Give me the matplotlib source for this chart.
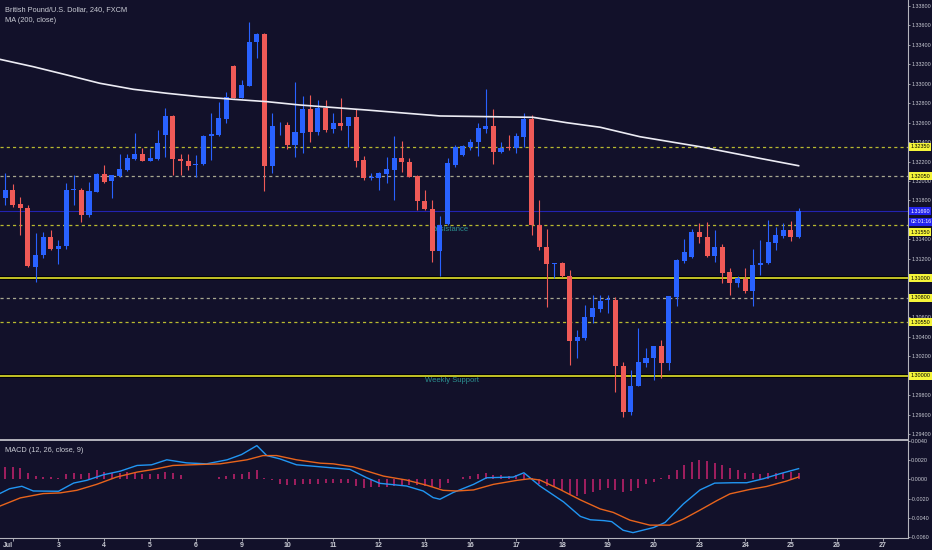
import numpy as np
import matplotlib
matplotlib.use('Agg')
import matplotlib.pyplot as plt

plt.rcParams['font.family'] = ['Liberation Sans', 'DejaVu Sans']

# GBPUSD 240 min candles, bar 0 = first bar of Jul 2
bars = np.arange(-1, 104)
opens = [1.31829, 1.31908, 1.31764, 1.31723, 1.31120, 1.31240, 1.31425, 1.31302, 1.31333, 1.31903,
         1.31908, 1.31651, 1.31890, 1.32072, 1.32003, 1.32051, 1.32113, 1.32226, 1.32274, 1.32209,
         1.32223, 1.32476, 1.32668, 1.32226, 1.32206, 1.32161, 1.32172, 1.32465, 1.32473, 1.32634,
         1.33184, 1.32856, 1.32976, 1.33425, 1.33507, 1.32157, 1.32560, 1.32575, 1.32370, 1.32496,
         1.32736, 1.32506, 1.32747, 1.32531, 1.32593, 1.32568, 1.32661, 1.32216, 1.32031, 1.32034,
         1.32072, 1.32113, 1.32233, 1.32198, 1.32051, 1.31798, 1.31713, 1.31284, 1.31555, 1.32164,
         1.32267, 1.32352, 1.32398, 1.32531, 1.32568, 1.32301, 1.32352, 1.32342, 1.32455, 1.32634,
         1.31548, 1.31325, 1.31145, 1.31155, 1.31024, 1.30357, 1.30391, 1.30600, 1.30682, 1.30773,
         1.30778, 1.30103, 1.29628, 1.29898, 1.30134, 1.30179, 1.30306, 1.30128, 1.30812, 1.31182,
         1.31217, 1.31479, 1.31428, 1.31230, 1.31319, 1.31062, 1.30950, 1.30994, 1.30870, 1.31138,
         1.31155, 1.31366, 1.31438, 1.31497, 1.31422]
highs = [1.32082, 1.31969, 1.31836, 1.31754, 1.31466, 1.31476, 1.31497, 1.31394, 1.31980, 1.32062,
         1.31928, 1.31990, 1.32082, 1.32164, 1.32062, 1.32277, 1.32277, 1.32493, 1.32339, 1.32339,
         1.32524, 1.32753, 1.32678, 1.32277, 1.32277, 1.32267, 1.32473, 1.32698, 1.32815, 1.32917,
         1.33191, 1.33037, 1.33636, 1.33517, 1.33517, 1.32702, 1.32609, 1.32606, 1.33020, 1.32873,
         1.32883, 1.32832, 1.32832, 1.32698, 1.32856, 1.32661, 1.32736, 1.32257, 1.32085, 1.32096,
         1.32250, 1.32462, 1.32414, 1.32239, 1.32062, 1.31908, 1.31805, 1.31641, 1.32236, 1.32370,
         1.32370, 1.32428, 1.32599, 1.32942, 1.32736, 1.32404, 1.32473, 1.32490, 1.32695, 1.32678,
         1.31805, 1.31504, 1.31158, 1.31171, 1.31086, 1.30470, 1.30727, 1.30829, 1.30829, 1.30829,
         1.30809, 1.30138, 1.30059, 1.30494, 1.30282, 1.30306, 1.30367, 1.30819, 1.31196, 1.31401,
         1.31504, 1.31566, 1.31582, 1.31497, 1.31353, 1.31104, 1.31024, 1.31104, 1.31299, 1.31394,
         1.31600, 1.31531, 1.31566, 1.31592, 1.31720]
lows = [1.31754, 1.31733, 1.31446, 1.31117, 1.30958, 1.31209, 1.31292, 1.31148, 1.31302, 1.31754,
        1.31579, 1.31630, 1.31887, 1.31980, 1.31826, 1.32041, 1.32103, 1.32216, 1.32206, 1.32206,
        1.32216, 1.32250, 1.32062, 1.32062, 1.32113, 1.32041, 1.32164, 1.32216, 1.32467, 1.32596,
        1.32853, 1.32849, 1.32971, 1.33260, 1.31901, 1.32079, 1.32473, 1.32326, 1.32244, 1.32285,
        1.32404, 1.32473, 1.32506, 1.32493, 1.32524, 1.32352, 1.32147, 1.32010, 1.32010, 1.31908,
        1.31983, 1.31805, 1.32096, 1.32044, 1.31702, 1.31702, 1.31171, 1.31024, 1.31548, 1.32147,
        1.32257, 1.32319, 1.32257, 1.32490, 1.32175, 1.32285, 1.32319, 1.32285, 1.32352, 1.31446,
        1.31292, 1.30703, 1.31001, 1.31017, 1.30110, 1.30179, 1.30367, 1.30545, 1.30658, 1.30644,
        1.29836, 1.29580, 1.29597, 1.29895, 1.30093, 1.29956, 1.29974, 1.30059, 1.30716, 1.31155,
        1.31206, 1.31360, 1.31223, 1.31171, 1.30956, 1.30829, 1.30915, 1.30847, 1.30716, 1.31035,
        1.31148, 1.31292, 1.31412, 1.31387, 1.31412]
closes = [1.31908, 1.31754, 1.31723, 1.31127, 1.31240, 1.31425, 1.31302, 1.31333, 1.31908, 1.31913,
          1.31651, 1.31897, 1.32072, 1.31993, 1.32062, 1.32120, 1.32236, 1.32274, 1.32209, 1.32233,
          1.32393, 1.32668, 1.32223, 1.32206, 1.32157, 1.32175, 1.32465, 1.32483, 1.32644, 1.32866,
          1.32856, 1.32986, 1.33431, 1.33507, 1.32157, 1.32565, 1.32570, 1.32370, 1.32500, 1.32736,
          1.32506, 1.32747, 1.32524, 1.32593, 1.32565, 1.32661, 1.32209, 1.32028, 1.32036, 1.32079,
          1.32120, 1.32233, 1.32192, 1.32044, 1.31795, 1.31709, 1.31284, 1.31548, 1.32182, 1.32352,
          1.32360, 1.32404, 1.32541, 1.32568, 1.32301, 1.32342, 1.32336, 1.32462, 1.32634, 1.31548,
          1.31319, 1.31145, 1.31155, 1.31024, 1.30357, 1.30401, 1.30607, 1.30693, 1.30771, 1.30783,
          1.30103, 1.29628, 1.29898, 1.30138, 1.30185, 1.30306, 1.30128, 1.30819, 1.31189, 1.31274,
          1.31479, 1.31428, 1.31230, 1.31319, 1.31058, 1.30950, 1.31001, 1.30870, 1.31138, 1.31161,
          1.31377, 1.31446, 1.31497, 1.31422, 1.31690]

# MA(200, close) read at a few bars
ma_x = [-1.7, 2.7, 7.1, 11.4, 15.8, 20.2, 24.5, 28.9, 33.3, 37.6, 46.4, 56.0, 62.2, 68.2, 72.6,
        77.0, 82.2, 90.1, 97.9, 103.0]
ma_v = [1.33250, 1.33174, 1.33089, 1.33004, 1.32942, 1.32901, 1.32866, 1.32839, 1.32815, 1.32781,
        1.32729, 1.32668, 1.32661, 1.32654, 1.32599, 1.32552, 1.32455, 1.32352, 1.32233, 1.32157]

# MACD (12, 26, close, 9)
macd_x = [-1.7, -0.4, 1.2, 2.7, 6.0, 8.0, 9.7, 11.9, 14.1, 16.3, 18.2, 20.2, 22.8, 25.4, 28.1, 30.0,
          32.0, 33.3, 35.0, 37.2, 39.0, 44.2, 46.4, 48.1, 51.6, 53.8, 55.1, 56.0, 57.7, 60.4, 62.1,
          65.6, 67.0, 69.1, 72.2, 74.4, 75.7, 77.5, 78.5, 80.0, 81.3, 84.0, 85.5, 87.9, 90.1, 92.0,
          94.4, 96.2, 98.4, 100.6, 103.0]
macd_v = [-0.00148, -0.00097, -0.00072, -0.00121, -0.00124, -0.00038, -0.00010, 0.00048, 0.00086,
          0.00145, 0.00152, 0.00204, 0.00172, 0.00162, 0.00204, 0.00259, 0.00352, 0.00248, 0.00214,
          0.00152, 0.00140, 0.00104, 0.00017, -0.00041, -0.00069, -0.00121, -0.00190, -0.00207,
          -0.00138, -0.00052, 0.00017, 0.00024, 0.00069, -0.00069, -0.00235, -0.00386, -0.00421,
          -0.00430, -0.00440, -0.00530, -0.00555, -0.00502, -0.00449, -0.00256, -0.00109, -0.00039,
          -0.00035, -0.00035, 0.00007, 0.00060, 0.00112]
sig_x = [-1.7, 1.0, 4.0, 6.2, 8.4, 11.0, 13.6, 16.3, 18.4, 21.0, 24.5, 27.2, 30.7, 32.8, 34.6, 37.2,
         40.3, 42.0, 44.6, 48.6, 51.6, 54.3, 56.4, 58.2, 60.4, 63.0, 66.1, 67.8, 69.1, 71.7, 74.4,
         77.0, 78.7, 80.9, 83.5, 86.1, 87.9, 90.1, 92.3, 94.0, 96.6, 98.8, 101.4, 103.0]
sig_v = [-0.00279, -0.00193, -0.00148, -0.00141, -0.00114, -0.00052, 0.00024, 0.00076, 0.00103,
         0.00145, 0.00155, 0.00162, 0.00204, 0.00248, 0.00248, 0.00204, 0.00169, 0.00162, 0.00131,
         0.00034, -0.00007, -0.00062, -0.00114, -0.00121, -0.00110, -0.00052, -0.00010, 0.00007,
         -0.00007, -0.00104, -0.00214, -0.00308, -0.00344, -0.00425, -0.00477, -0.00477, -0.00414,
         -0.00319, -0.00221, -0.00151, -0.00105, -0.00074, -0.00018, 0.00025]
hist = [0.00128, 0.00128, 0.00117, 0.00069, 0.00031, 0.00024, 0.00024, 0.00017, 0.00052, 0.00069,
        0.00059, 0.00066, 0.00093, 0.00076, 0.00066, 0.00069, 0.00076, 0.00066, 0.00059, 0.00052,
        0.00059, 0.00076, 0.00066, 0.00041, 0.00007, 0.0, 0.0, 0.00007, 0.00024, 0.00035,
        0.00059, 0.00059, 0.00076, 0.00093, 0.00017, -0.00003, -0.00045, -0.00055, -0.00055, -0.00045,
        -0.0005, -0.00045, -0.0004, -0.0004, -0.0004, -0.0004, -0.0007, -0.0009, -0.0008, -0.0008,
        -0.0008, -0.0007, -0.0007, -0.0006, -0.0006, -0.0007, -0.0008, -0.0009, -0.0004, 0.0,
        0.0002, 0.0004, 0.0006, 0.0007, 0.0005, 0.0005, 0.0004, 0.0005, 0.0006, 0.0001,
        -0.0005, -0.0007, -0.0008, -0.0011, -0.0015, -0.0017, -0.0015, -0.0013, -0.0011, -0.0009,
        -0.0011, -0.0013, -0.0012, -0.0009, -0.0005, -0.0003, 0.0001, 0.0005, 0.0010, 0.0015,
        0.0018, 0.0020, 0.0019, 0.0017, 0.0015, 0.0012, 0.0010, 0.0007, 0.0007, 0.0006,
        0.0007, 0.0007, 0.0007, 0.0008, 0.0007]

day_labels = ['Jul', '3', '4', '5', '6', '9', '10', '11', '12', '13', '16', '17', '18', '19', '20',
              '23', '24', '25', '26', '27']
bars_per_day = 6

solid_levels = [1.3100, 1.3000]
dashed_levels = [1.3235, 1.3205, 1.3155, 1.3080, 1.3055]
last_price = 1.3169

BG = '#12112a'
UP = '#2962ff'
DOWN = '#ef5a57'
TXT = '#c9cbd4'
GRID = '#b4b4bc'
LBL = 3.9

fig = plt.figure(figsize=(9.32, 5.5), dpi=100, facecolor=BG)
ax = fig.add_axes([0, 110 / 550, 908 / 932, 440 / 550], facecolor=BG)
ax2 = fig.add_axes([0, 12 / 550, 908 / 932, 97 / 550], facecolor=BG)

o = np.array(opens)
c = np.array(closes)
up = c >= o
cols = np.where(up, UP, DOWN)
body_lo = np.minimum(o, c)
body_h = np.maximum(np.abs(c - o), 0.00003)

ax.vlines(bars, lows, highs, colors=cols, lw=0.8, zorder=4)
ax.bar(bars, body_h, bottom=body_lo, width=0.66, color=cols, edgecolor='none', zorder=5)

ax.plot(ma_x, ma_v, color='#ececf4', lw=1.2, zorder=6)

for lv in solid_levels:
    ax.axhline(lv, color='#000000', lw=2.6, zorder=2)
    ax.axhline(lv, color='#e4e42c', lw=1.2, zorder=2.1)
for lv in dashed_levels:
    lc = '#a8a890' if lv in (1.3205, 1.3080) else '#b9b930'
    ax.axhline(lv, color=lc, lw=0.9, ls=(0, (2.5, 2.5)), zorder=2)
ax.axhline(last_price, color='#2323b0', lw=0.8, zorder=1.5)

ax.text(57.3, 1.31504, 'Resistance', color='#2b8f8f', fontsize=5.5, ha='center', va='center', zorder=3)
ax.text(57.6, 1.29946, 'Weekly Support', color='#2b8f8f', fontsize=5.5, ha='center', va='center', zorder=3)

ax.set_xlim(-1.664, 117.34)
ax.set_ylim(1.29340, 1.33859)
ax.yaxis.tick_right()
yt = np.arange(1.294, 1.3381, 0.002)
ax.set_yticks(yt)
ax.set_yticklabels(['%.5f' % v for v in yt])
ax.tick_params(axis='y', colors=GRID, labelcolor=TXT, labelsize=LBL, length=1.5, width=0.6, pad=0.8)
ax.set_xticks([])
for s in ['top', 'left']:
    ax.spines[s].set_visible(False)
ax.spines['right'].set_color(GRID)
ax.spines['right'].set_linewidth(0.8)
ax.spines['bottom'].set_color(GRID)
ax.spines['bottom'].set_linewidth(1.4)


def tag(axis, y, text, bg, fg):
    axis.text(1.0025, y, text, transform=axis.get_yaxis_transform(), ha='left', va='center',
              fontsize=LBL, color=fg, zorder=10, clip_on=False,
              bbox=dict(boxstyle='square,pad=0.28', fc=bg, ec='none'))


for lv in [1.3235, 1.3205, 1.3100, 1.3080, 1.3055, 1.3000]:
    tag(ax, lv, '%.5f' % lv, '#f5f53a', '#000000')
tag(ax, 1.31476, '1.31550', '#f5f53a', '#000000')
tag(ax, last_price, '%.5f' % last_price, '#2424f0', '#ffffff')
tag(ax, 1.31580, '02:01:16', '#2424f0', '#ffffff')

fig.text(5 / 932, 1 - 10 / 550, 'British Pound/U.S. Dollar, 240, FXCM', color=TXT, fontsize=5.3, va='center')
fig.text(5 / 932, 1 - 21 / 550, 'MA (200, close)', color=TXT, fontsize=5.3, va='center')

# MACD panel
ax2.vlines(bars, 0, hist, colors='#c8226e', lw=1.1, zorder=2)
ax2.plot(macd_x, macd_v, color='#2196f3', lw=1.0, zorder=3)
ax2.plot(sig_x, sig_v, color='#e8641c', lw=1.0, zorder=3)
ax2.set_xlim(-1.664, 117.34)
ax2.set_ylim(-0.00611, 0.00394)
ax2.yaxis.tick_right()
mt = [0.004, 0.002, 0.0, -0.002, -0.004, -0.006]
ax2.set_yticks(mt)
ax2.set_yticklabels(['%.4f' % v for v in mt])
ax2.tick_params(axis='y', colors=GRID, labelcolor=TXT, labelsize=LBL, length=1.5, width=0.6, pad=0.8)
ax2.set_xticks([k * bars_per_day for k in range(len(day_labels))])
ax2.set_xticklabels(day_labels, fontweight='bold')
ax2.get_xticklabels()[0].set_horizontalalignment('right')
ax2.tick_params(axis='x', colors=GRID, labelcolor=TXT, labelsize=5, length=2, width=0.6, pad=1)
for s in ['top', 'left']:
    ax2.spines[s].set_visible(False)
for s in ['right', 'bottom']:
    ax2.spines[s].set_color(GRID)
    ax2.spines[s].set_linewidth(0.8)
fig.text(5 / 932, 1 - 451 / 550, 'MACD (12, 26, close, 9)', color=TXT, fontsize=5.3, va='center')

fig.savefig('out.png', dpi=100, facecolor=BG)
